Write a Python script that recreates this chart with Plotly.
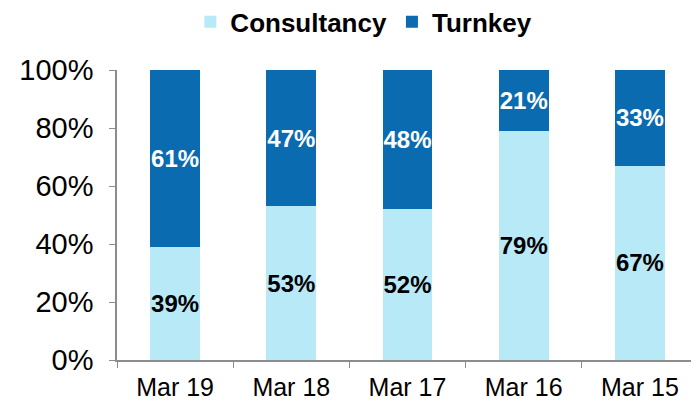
import plotly.graph_objects as go

categories = ["Mar 19", "Mar 18", "Mar 17", "Mar 16", "Mar 15"]
consultancy = [39, 53, 52, 79, 67]
turnkey = [61, 47, 48, 21, 33]
y_ticks = [0, 20, 40, 60, 80, 100]
y_tick_labels = ["0%", "20%", "40%", "60%", "80%", "100%"]

FONT = "Liberation Sans, Arial, sans-serif"

fig = go.Figure()
fig.add_trace(go.Bar(
    x=categories, y=consultancy, name="Consultancy",
    marker=dict(color="#B8E9F7", line=dict(width=0)),
    text=[f"{v}%" for v in consultancy], textposition="inside",
    insidetextanchor="middle", textangle=0, constraintext="none",
    textfont=dict(family=FONT, size=24, color="black", weight="bold"),
))
fig.add_trace(go.Bar(
    x=categories, y=turnkey, name="Turnkey",
    marker=dict(color="#0A6BB0", line=dict(width=0)),
    text=[f"{v}%" for v in turnkey], textposition="inside",
    insidetextanchor="middle", textangle=0, constraintext="none",
    textfont=dict(family=FONT, size=24, color="white", weight="bold"),
))

fig.update_layout(
    width=691, height=396,
    margin=dict(l=109, r=1, t=62, b=44),
    barmode="stack", bargap=0.57,
    plot_bgcolor="white", paper_bgcolor="white",
    font=dict(family=FONT, color="black"),
    uniformtext=dict(mode=False),
    legend=dict(
        orientation="h", traceorder="normal",
        xref="container", yref="container",
        x=0.515, xanchor="center", y=0.965, yanchor="middle",
        font=dict(family=FONT, size=26, color="black", weight="bold"),
        itemwidth=30,
    ),
    xaxis=dict(
        automargin=False,
        showline=True, linecolor="#8C8C8C", linewidth=1.5,
        ticks="outside", tickson="boundaries", ticklen=6, tickcolor="#8C8C8C",
        tickfont=dict(family=FONT, size=25, color="black"),
        ticklabelstandoff=4,
        showgrid=False,
    ),
    yaxis=dict(
        automargin=False,
        range=[0, 100], tickvals=y_ticks, ticktext=y_tick_labels,
        showline=True, linecolor="#8C8C8C", linewidth=1.5,
        ticks="outside", ticklen=6, tickcolor="#8C8C8C",
        tickfont=dict(family=FONT, size=29, color="black"),
        ticklabelstandoff=10,
        showgrid=False, zeroline=False,
    ),
)

fig.write_html("out.html")
